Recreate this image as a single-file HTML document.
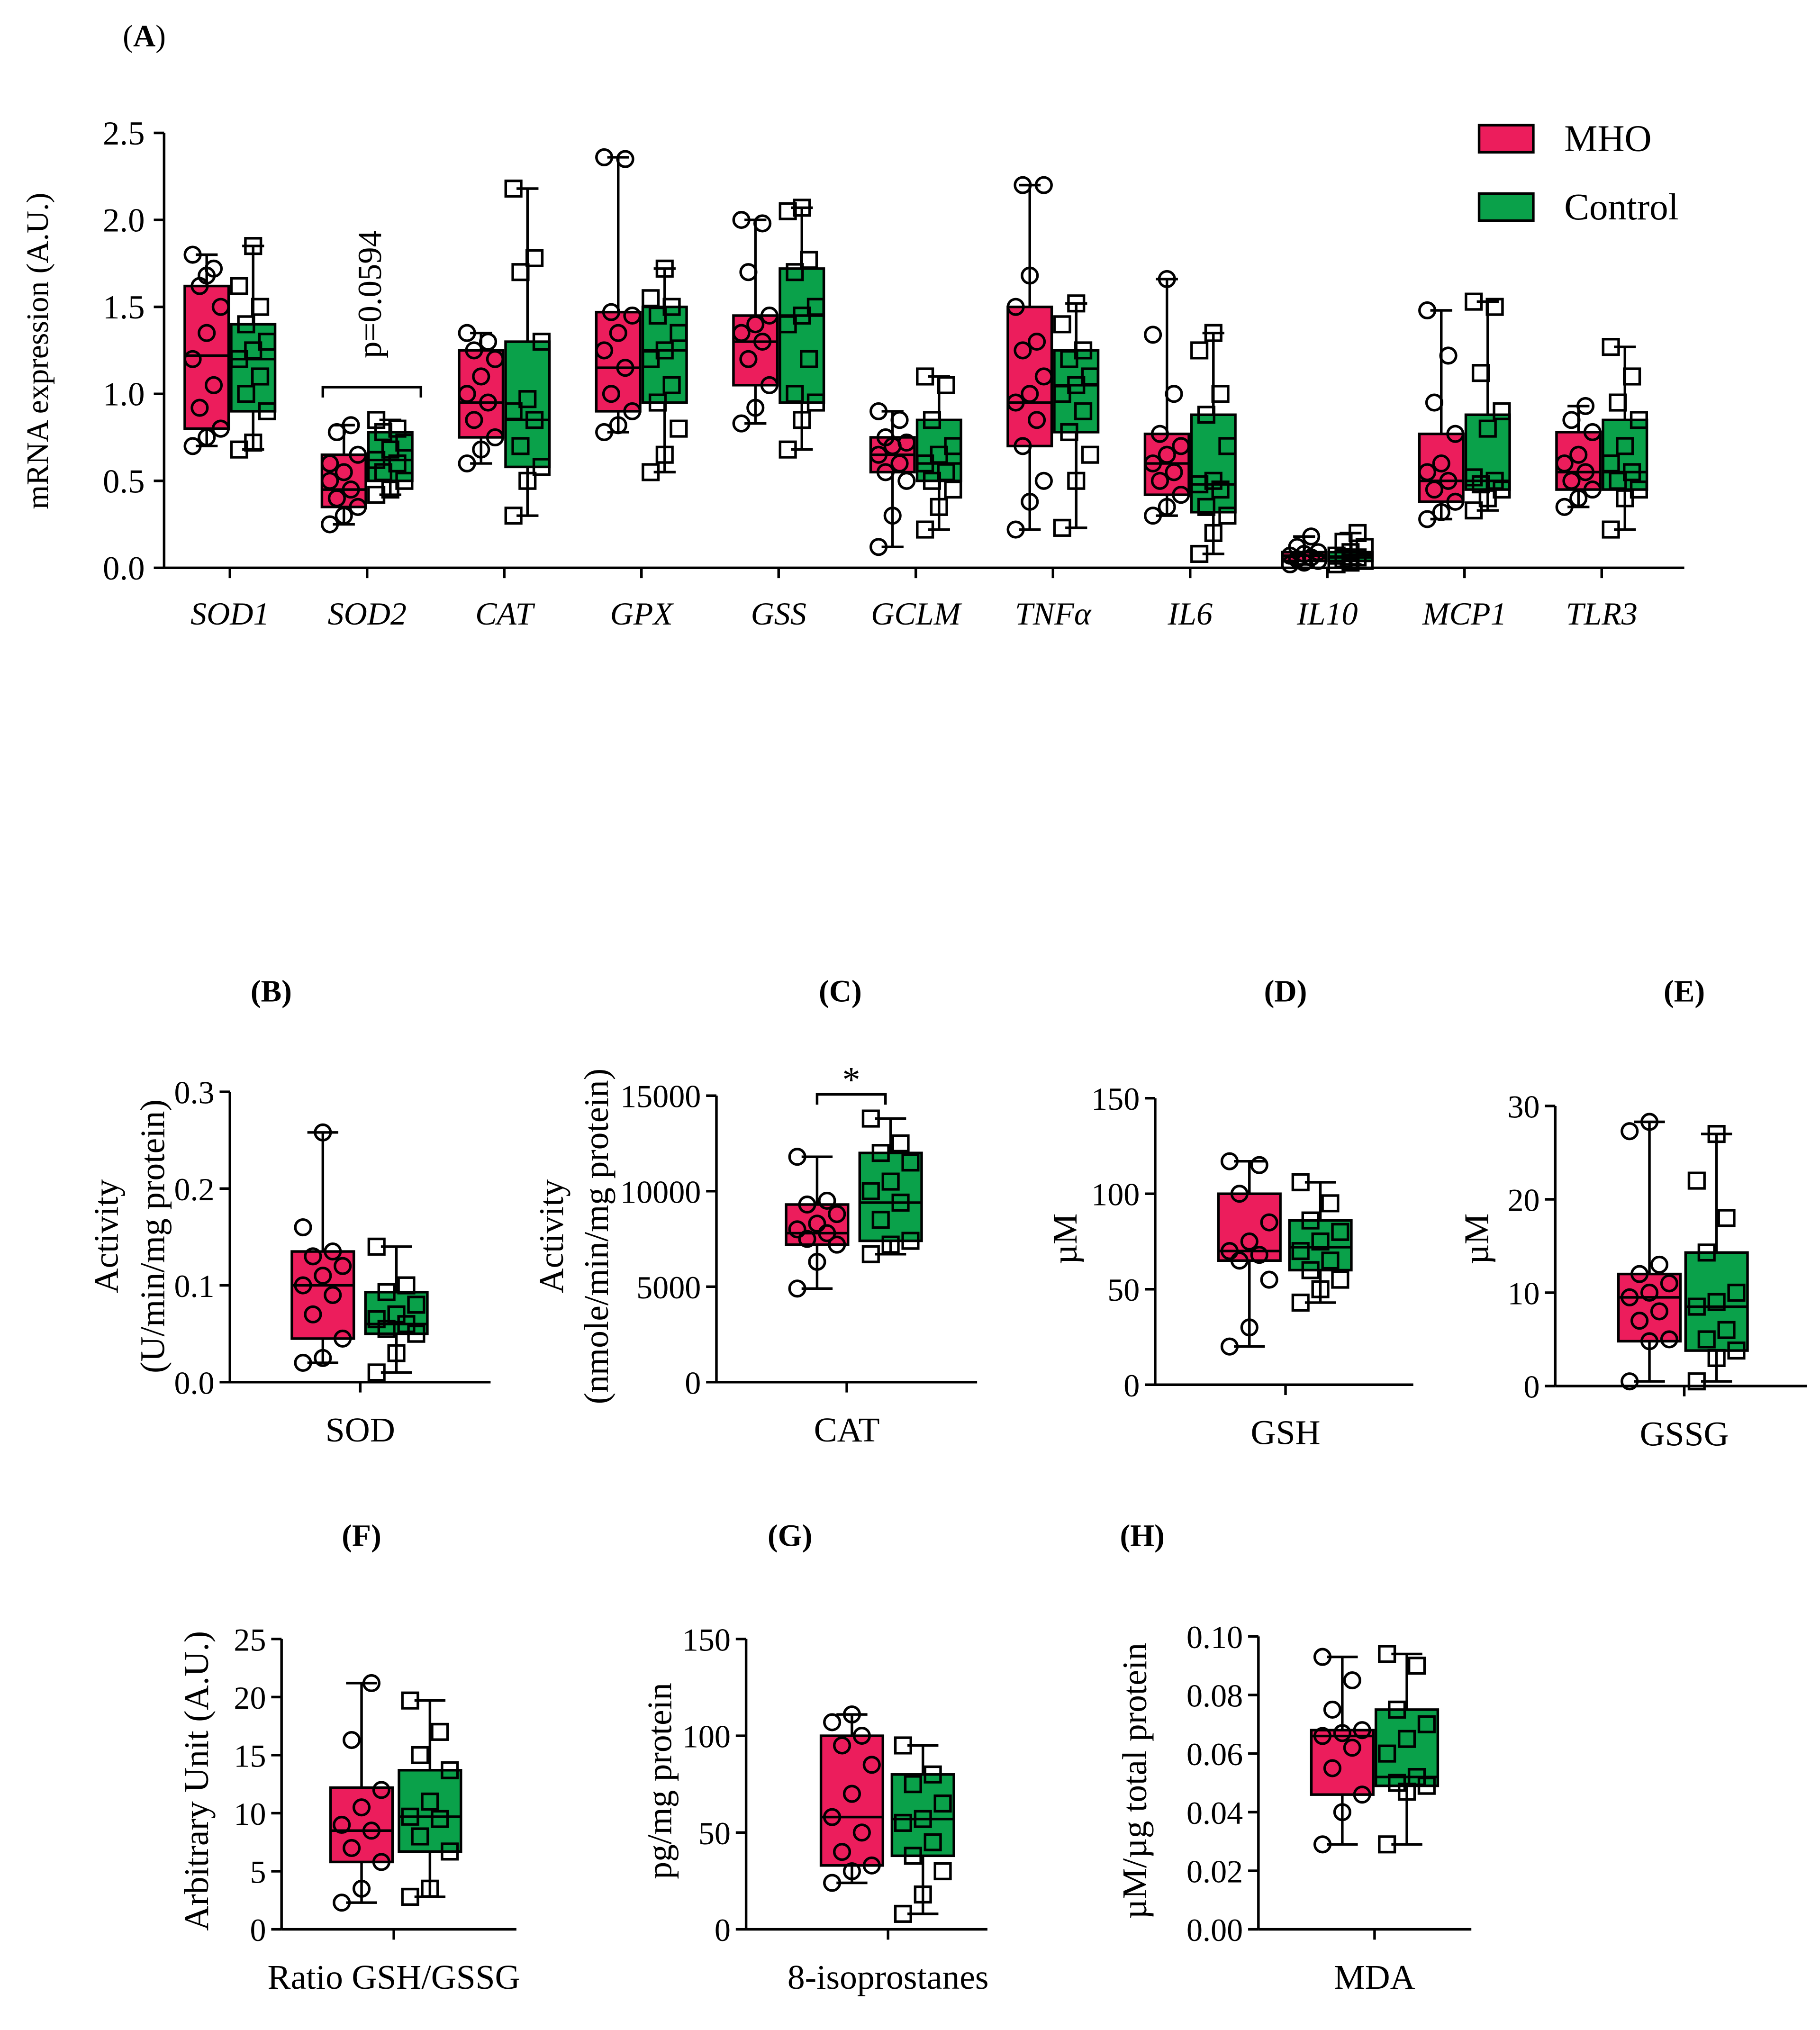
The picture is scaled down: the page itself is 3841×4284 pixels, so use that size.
<!DOCTYPE html>
<html><head><meta charset="utf-8"><style>
html,body{margin:0;padding:0;background:#fff}
svg{display:block}
text{font-family:"Liberation Serif",serif;fill:#000}
</style></head><body>
<svg id="fig" xmlns="http://www.w3.org/2000/svg" width="3841" height="4284" viewBox="0 0 1410 1573">
<rect width="1410" height="1573" fill="#fff"/>
<g id="root"></g>
</svg>
<script>
// ---------- Panel A data ----------
const genes=["SOD1","SOD2","CAT","GPX","GSS","GCLM","TNFα","IL6","IL10","MCP1","TLR3"];
const aMhoStats=[[0.7,0.8,1.22,1.62,1.8],[0.25,0.35,0.45,0.65,0.82],[0.6,0.75,0.95,1.25,1.35],[0.78,0.9,1.15,1.47,2.36],[0.83,1.05,1.3,1.45,2.0],[0.12,0.55,0.65,0.75,0.9],[0.22,0.7,0.95,1.5,2.2],[0.3,0.42,0.6,0.77,1.66],[0.02,0.04,0.07,0.09,0.18],[0.28,0.38,0.5,0.77,1.48],[0.35,0.45,0.55,0.78,0.93]];
const aCtrlStats=[[0.68,0.9,1.2,1.4,1.85],[0.42,0.5,0.62,0.78,0.85],[0.3,0.58,0.85,1.3,2.18],[0.55,0.95,1.25,1.5,1.72],[0.68,0.95,1.45,1.72,2.07],[0.22,0.5,0.6,0.85,1.1],[0.23,0.78,1.05,1.25,1.52],[0.08,0.32,0.48,0.88,1.35],[0.02,0.04,0.06,0.09,0.2],[0.33,0.45,0.5,0.88,1.53],[0.22,0.45,0.55,0.85,1.27]];
const aMhoPts=[[0.7,0.75,0.8,0.92,1.05,1.2,1.35,1.5,1.62,1.72,1.8,1.68],[0.25,0.3,0.35,0.4,0.45,0.5,0.55,0.65,0.78,0.82,0.6],[0.6,0.68,0.75,0.85,0.95,1.0,1.1,1.2,1.25,1.3,1.35],[0.78,0.82,0.9,1.0,1.15,1.25,1.35,1.45,1.47,2.35,2.36],[0.83,0.92,1.05,1.2,1.3,1.35,1.4,1.45,1.7,1.98,2.0],[0.12,0.3,0.5,0.55,0.6,0.65,0.7,0.72,0.75,0.85,0.9],[0.22,0.38,0.5,0.7,0.85,0.95,1.0,1.1,1.25,1.3,1.5,1.68,2.2,2.2],[0.3,0.35,0.42,0.5,0.55,0.6,0.65,0.7,0.77,1.0,1.34,1.66],[0.02,0.03,0.04,0.05,0.06,0.07,0.08,0.09,0.12,0.18],[0.28,0.32,0.38,0.45,0.5,0.55,0.6,0.77,0.95,1.22,1.48],[0.35,0.4,0.45,0.5,0.55,0.6,0.65,0.78,0.85,0.93]];
const aCtrlPts=[[0.68,0.72,0.9,1.0,1.1,1.2,1.25,1.3,1.4,1.5,1.62,1.85],[0.42,0.45,0.5,0.55,0.6,0.62,0.68,0.72,0.78,0.8,0.85],[0.3,0.5,0.58,0.7,0.85,0.9,0.97,1.3,1.7,1.78,2.18],[0.55,0.65,0.8,0.95,1.05,1.2,1.25,1.35,1.45,1.5,1.55,1.72],[0.68,0.85,0.95,1.0,1.2,1.4,1.45,1.5,1.7,1.77,2.05,2.07],[0.22,0.35,0.45,0.5,0.55,0.6,0.65,0.7,0.85,1.05,1.1],[0.23,0.5,0.65,0.78,0.9,1.0,1.05,1.1,1.2,1.25,1.4,1.52],[0.08,0.2,0.3,0.35,0.45,0.48,0.5,0.7,0.88,1.0,1.25,1.35],[0.02,0.03,0.04,0.05,0.06,0.07,0.09,0.12,0.15,0.2],[0.33,0.4,0.45,0.48,0.5,0.52,0.8,0.9,1.12,1.5,1.53],[0.22,0.4,0.45,0.5,0.55,0.6,0.7,0.85,0.95,1.1,1.27]];
const aTicks=["0.0","0.5","1.0","1.5","2.0","2.5"];

// ---------- Small panels data ----------
const panelLabels=["(B)","(C)","(D)","(E)","(F)","(G)","(H)"];
const panelCats=["SOD","CAT","GSH","GSSG","Ratio GSH/GSSG","8-isoprostanes","MDA"];
const panelMax=[0.3,15000,150,30,25,150,0.10];
const panelStep=[0.1,5000,50,10,5,50,0.02];
const panelTickDigits=[1,0,0,0,0,0,2];
const mhoStats=[[0.02,0.045,0.1,0.135,0.258],[4900,7200,7800,9300,11800],[20,65,70,100,117],[0.5,4.8,9.5,12,28.3],[2.3,5.8,8.5,12.2,21.2],[24,33,58,100,111],[0.029,0.046,0.066,0.068,0.093]];
const ctrlStats=[[0.01,0.05,0.06,0.093,0.14],[6700,7400,9400,12000,13800],[43,60,72,86,106],[0.5,3.8,8.5,14.3,27],[2.8,6.7,9.7,13.7,19.7],[8,38,57,80,95],[0.029,0.049,0.052,0.075,0.094]];
const mhoPts=[[0.02,0.025,0.045,0.07,0.09,0.1,0.11,0.12,0.13,0.135,0.16,0.258],[4900,6300,7200,7500,7800,8000,8300,8800,9300,9500,11800],[20,30,55,65,68,70,75,85,100,115,117],[0.5,4.8,5,7,8,9.5,10,11,12,13,27.3,28.3],[2.3,3.5,5.8,7,8.5,9,10.5,12,16.3,21.2],[24,30,33,40,50,58,70,85,95,100,107,111],[0.029,0.04,0.046,0.055,0.062,0.066,0.067,0.068,0.075,0.085,0.093]];
const ctrlPts=[[0.01,0.03,0.05,0.055,0.06,0.065,0.07,0.08,0.093,0.1,0.14],[6700,7200,7400,8500,9400,10000,10500,11500,12000,12500,13800],[43,50,55,60,65,70,75,80,86,95,106],[0.5,3,3.8,5,6,8.5,9,10,14.3,18,22,27],[2.8,3.5,6.7,8,9.5,9.7,11,13.7,15,17,19.7],[8,18,30,38,45,55,57,65,75,80,95],[0.029,0.047,0.049,0.05,0.052,0.06,0.065,0.07,0.075,0.09,0.094]];
const yLabels=[["Activity","(U/min/mg protein)"],["Activity","(nmole/min/mg protein)"],["µM"],["µM"],["Arbitrary Unit (A.U.)"],["pg/mg protein"],["µM/µg total protein"]];

const PINK="#ec1d5c", GREEN="#0aa14a";
const NS="http://www.w3.org/2000/svg";
const root=document.getElementById('root');
function mk(tag,attrs,parent,txt){const e=document.createElementNS(NS,tag);for(const k in attrs)e.setAttribute(k,attrs[k]);if(txt!==undefined)e.textContent=txt;(parent||root).appendChild(e);return e;}

function drawGroup(parent,xc,w,st,pts,color,shape,ys,name){
  const g=mk('g',{},parent);
  
  
  const cap=w*0.5;
  mk('line',{x1:xc,x2:xc,y1:ys(st[0]),y2:ys(st[4]),stroke:'#000','stroke-width':2},g);
  mk('line',{x1:xc-cap/2,x2:xc+cap/2,y1:ys(st[0]),y2:ys(st[0]),stroke:'#000','stroke-width':2},g);
  mk('line',{x1:xc-cap/2,x2:xc+cap/2,y1:ys(st[4]),y2:ys(st[4]),stroke:'#000','stroke-width':2},g);
  const box=mk('rect',{x:xc-w/2,y:ys(st[3]),width:w,height:ys(st[1])-ys(st[3]),fill:color,stroke:'#000','stroke-width':2},g);
  
  
  mk('line',{x1:xc-w/2,x2:xc+w/2,y1:ys(st[2]),y2:ys(st[2]),stroke:'#000','stroke-width':2},g);
  pts.forEach((v,i)=>{
    const dx=((i*7)%5-2)*w*0.16;
    const y=ys(v);
    let p;
    if(shape==='c')p=mk('circle',{cx:xc+dx,cy:y,r:6,fill:'none',stroke:'#000','stroke-width':2},g);
    else p=mk('rect',{x:xc+dx-6,y:y-6,width:12,height:12,fill:'none',stroke:'#000','stroke-width':2},g);
    
    
  });
}

// ---------- Panel A ----------
(function(){
  const g=mk('g',{});
  
  
  const al=mk('text',{x:95,y:36,'font-size':24},g,'');
  
  mk('tspan',{},al,'(');mk('tspan',{'font-weight':'bold'},al,'A');mk('tspan',{},al,')');
  const x0=127,x1=1305,y0=440,yTop=103,vmax=2.5;
  const ys=v=>y0-(v/vmax)*(y0-yTop);
  const cx=i=>178+i*106.3;
  mk('line',{x1:x0,x2:x0,y1:y0,y2:yTop,stroke:'#000','stroke-width':2},g);
  mk('line',{x1:x0,x2:x1,y1:y0,y2:y0,stroke:'#000','stroke-width':2},g);
  aTicks.forEach(t=>{const y=ys(parseFloat(t));
    mk('line',{x1:x0-8,x2:x0,y1:y,y2:y,stroke:'#000','stroke-width':2},g);
    const tx=mk('text',{x:x0-15,y:y+9,'font-size':26,'text-anchor':'end'},g,t);
    });
  const yl=mk('text',{x:0,y:0,'font-size':24,'text-anchor':'middle',transform:'translate(37,272) rotate(-90)'},g,'mRNA expression (A.U.)');
  
  genes.forEach((gn,i)=>{
    const c=cx(i);
    mk('line',{x1:c,x2:c,y1:y0,y2:y0+8,stroke:'#000','stroke-width':2},g);
    const t=mk('text',{x:c,y:484,'font-size':25,'font-style':'italic','text-anchor':'middle'},g,gn);
    
    drawGroup(g,c-18,34,aMhoStats[i],aMhoPts[i],PINK,'c',ys,'mho-'+gn.toLowerCase());
    drawGroup(g,c+18,34,aCtrlStats[i],aCtrlPts[i],GREEN,'s',ys,'control-'+gn.toLowerCase());
  });
  mk('path',{d:'M250,308 V300 H326 V308',fill:'none',stroke:'#000','stroke-width':2},g);
  const p=mk('text',{x:0,y:0,'font-size':26,'text-anchor':'middle',transform:'translate(295,228) rotate(-90)'},g,'p=0.0594');
  
  const lg=mk('g',{},g);
  
  
  mk('rect',{x:1146,y:97,width:42,height:21,fill:PINK,stroke:'#000','stroke-width':2},lg);
  mk('text',{x:1212,y:117,'font-size':29},lg,'MHO');
  mk('rect',{x:1146,y:150,width:42,height:21,fill:GREEN,stroke:'#000','stroke-width':2},lg);
  mk('text',{x:1212,y:170,'font-size':29},lg,'Control');
})();

// ---------- Small panels ----------
const layout=[
 {ax:178,y0:1071,yt:846,xe:380,tk:279,bm:250,bc:307,title:[210,776],yl:[83,119],ylc:958},
 {ax:555,y0:1071,yt:849,xe:757,tk:656,bm:633,bc:690,title:[651,776],yl:[428,463],ylc:958},
 {ax:895,y0:1073,yt:851,xe:1095,tk:996,bm:968,bc:1023,title:[996,776],yl:[826],ylc:960},
 {ax:1205,y0:1074,yt:857,xe:1400,tk:1305,bm:1278,bc:1330,title:[1305,776],yl:[1145],ylc:960},
 {ax:218,y0:1495,yt:1270,xe:400,tk:305,bm:280,bc:333,title:[280,1198],yl:[153],ylc:1380},
 {ax:578,y0:1495,yt:1270,xe:765,tk:688,bm:660,bc:715,title:[612,1198],yl:[512],ylc:1380},
 {ax:975,y0:1495,yt:1268,xe:1140,tk:1065,bm:1040,bc:1090,title:[885,1198],yl:[880],ylc:1380}
];
layout.forEach((L,k)=>{
  const g=mk('g',{});
  
  
  const ys=v=>L.y0-(v/panelMax[k])*(L.y0-L.yt);
  const t=mk('text',{x:L.title[0],y:L.title[1],'font-size':24,'font-weight':'bold','text-anchor':'middle'},g,panelLabels[k]);
  
  mk('line',{x1:L.ax,x2:L.ax,y1:L.y0,y2:L.yt,stroke:'#000','stroke-width':2},g);
  mk('line',{x1:L.ax,x2:L.xe,y1:L.y0,y2:L.y0,stroke:'#000','stroke-width':2},g);
  mk('line',{x1:L.tk,x2:L.tk,y1:L.y0,y2:L.y0+8,stroke:'#000','stroke-width':2},g);
  const n=Math.round(panelMax[k]/panelStep[k]);
  for(let i=0;i<=n;i++){const v=i*panelStep[k];const y=ys(v);
    mk('line',{x1:L.ax-8,x2:L.ax,y1:y,y2:y,stroke:'#000','stroke-width':2},g);
    const tx=mk('text',{x:L.ax-12,y:y+9,'font-size':25,'text-anchor':'end'},g,v.toFixed(panelTickDigits[k]));
    }
  const cl=mk('text',{x:L.tk,y:L.y0+46,'font-size':27,'text-anchor':'middle'},g,panelCats[k]);
  
  yLabels[k].forEach((s,j)=>{
    const yl=mk('text',{x:0,y:0,'font-size':27,'text-anchor':'middle',transform:`translate(${L.yl[j]+8},${L.ylc}) rotate(-90)`},g,s);
    
  });
  drawGroup(g,L.bm,48,mhoStats[k],mhoPts[k],PINK,'c',ys,'mho-box');
  drawGroup(g,L.bc,48,ctrlStats[k],ctrlPts[k],GREEN,'s',ys,'control-box');
  if(k===1){
    mk('path',{d:`M${L.bm},856 V848 H${L.bc-4} V856`,fill:'none',stroke:'#000','stroke-width':2},g);
    const s=mk('text',{x:(L.bm+L.bc)/2-2,y:846,'font-size':28,'text-anchor':'middle'},g,'*');
    
  }
});
</script>
</body></html>
